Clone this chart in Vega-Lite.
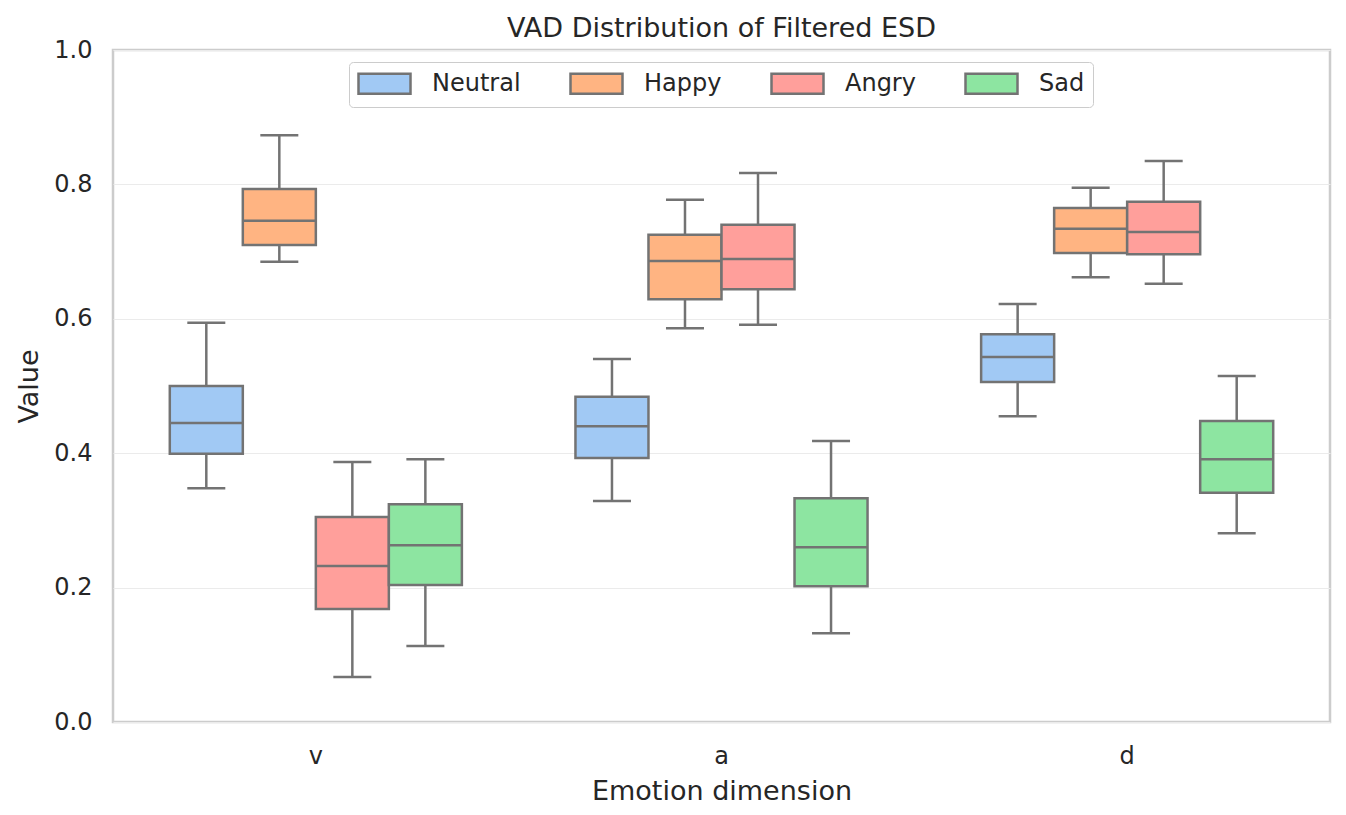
{
  "$schema": "https://vega.github.io/schema/vega-lite/v6.json",
  "width": 1217,
  "height": 672,
  "autosize": {"type": "none"},
  "padding": {"left": 113, "top": 50, "right": 16, "bottom": 93},
  "background": "white",
  "title": {
    "text": "VAD Distribution of Filtered ESD",
    "font": "DejaVu Sans",
    "fontSize": 27,
    "fontWeight": "normal",
    "color": "#262626",
    "anchor": "middle",
    "offset": -5
  },
  "config": {
    "view": {"stroke": "#cccccc", "strokeWidth": 2.5},
    "font": "DejaVu Sans"
  },
  "data": {
    "values": [
      {"dim": "v", "emotion": "Neutral", "lo": 0.348, "q1": 0.399, "med": 0.445, "q3": 0.500, "hi": 0.594},
      {"dim": "v", "emotion": "Happy", "lo": 0.685, "q1": 0.710, "med": 0.746, "q3": 0.793, "hi": 0.873},
      {"dim": "v", "emotion": "Angry", "lo": 0.067, "q1": 0.168, "med": 0.232, "q3": 0.305, "hi": 0.387},
      {"dim": "v", "emotion": "Sad", "lo": 0.113, "q1": 0.204, "med": 0.263, "q3": 0.324, "hi": 0.391},
      {"dim": "a", "emotion": "Neutral", "lo": 0.329, "q1": 0.393, "med": 0.440, "q3": 0.484, "hi": 0.540},
      {"dim": "a", "emotion": "Happy", "lo": 0.586, "q1": 0.629, "med": 0.686, "q3": 0.725, "hi": 0.777},
      {"dim": "a", "emotion": "Angry", "lo": 0.591, "q1": 0.644, "med": 0.689, "q3": 0.740, "hi": 0.817},
      {"dim": "a", "emotion": "Sad", "lo": 0.132, "q1": 0.202, "med": 0.260, "q3": 0.333, "hi": 0.418},
      {"dim": "d", "emotion": "Neutral", "lo": 0.455, "q1": 0.506, "med": 0.543, "q3": 0.577, "hi": 0.622},
      {"dim": "d", "emotion": "Happy", "lo": 0.662, "q1": 0.698, "med": 0.734, "q3": 0.765, "hi": 0.795},
      {"dim": "d", "emotion": "Angry", "lo": 0.652, "q1": 0.696, "med": 0.729, "q3": 0.774, "hi": 0.835},
      {"dim": "d", "emotion": "Sad", "lo": 0.281, "q1": 0.341, "med": 0.391, "q3": 0.448, "hi": 0.515}
    ]
  },
  "encoding": {
    "x": {
      "field": "dim",
      "type": "nominal",
      "sort": ["v", "a", "d"],
      "scale": {"paddingInner": 0.28, "paddingOuter": 0.14},
      "axis": {
        "title": "Emotion dimension",
        "labelAngle": 0,
        "labelFontSize": 24,
        "labelColor": "#262626",
        "labelPadding": 22,
        "titleFontSize": 27,
        "titleFontWeight": "normal",
        "titleColor": "#262626",
        "titlePadding": 10,
        "ticks": false,
        "domain": false,
        "grid": false
      }
    },
    "xOffset": {
      "field": "emotion",
      "type": "nominal",
      "sort": ["Neutral", "Happy", "Angry", "Sad"],
      "scale": {"paddingInner": 0, "paddingOuter": 0}
    }
  },
  "layer": [
    {
      "mark": {"type": "rule", "color": "#737373", "strokeWidth": 2.5},
      "encoding": {
        "y": {
          "field": "lo",
          "type": "quantitative",
          "scale": {"domain": [0, 1], "nice": false},
          "axis": {
            "title": "Value",
            "values": [0, 0.2, 0.4, 0.6, 0.8, 1.0],
            "format": ".1f",
            "labelFontSize": 24,
            "labelColor": "#262626",
            "labelPadding": 21,
            "titleFontSize": 27,
            "titleFontWeight": "normal",
            "titleColor": "#262626",
            "titlePadding": 10,
            "ticks": false,
            "domain": false,
            "grid": true,
            "gridColor": "#ebebeb",
            "gridWidth": 1.2
          }
        },
        "y2": {"field": "hi"}
      }
    },
    {
      "mark": {"type": "tick", "color": "#737373", "thickness": 2.5, "size": 38, "opacity": 1},
      "encoding": {"y": {"field": "lo", "type": "quantitative"}}
    },
    {
      "mark": {"type": "tick", "color": "#737373", "thickness": 2.5, "size": 38, "opacity": 1},
      "encoding": {"y": {"field": "hi", "type": "quantitative"}}
    },
    {
      "mark": {"type": "bar", "stroke": "#737373", "strokeWidth": 2.5, "opacity": 1},
      "encoding": {
        "y": {"field": "q1", "type": "quantitative"},
        "y2": {"field": "q3"},
        "fill": {
          "field": "emotion",
          "type": "nominal",
          "sort": ["Neutral", "Happy", "Angry", "Sad"],
          "scale": {
            "domain": ["Neutral", "Happy", "Angry", "Sad"],
            "range": ["#a1c9f4", "#ffb482", "#ff9f9b", "#8de5a1"]
          },
          "legend": {
            "title": null,
            "orient": "none",
            "legendX": 236,
            "legendY": 12,
            "direction": "horizontal",
            "columns": 4,
            "columnPadding": 44,
            "labelFontSize": 24,
            "labelFont": "DejaVu Sans",
            "labelColor": "#262626",
            "symbolType": "M-2.1667,-0.8333H2.1667V0.8333H-2.1667Z",
            "symbolSize": 576,
            "symbolOffset": 14,
            "symbolStrokeColor": "#737373",
            "symbolStrokeWidth": 2.5,
            "symbolOpacity": 1,
            "labelOffset": 34,
            "padding": 8,
            "strokeColor": "#cccccc",
            "fillColor": "white",
            "cornerRadius": 4
          }
        }
      }
    },
    {
      "mark": {"type": "tick", "color": "#737373", "thickness": 2.5, "size": 72, "opacity": 1},
      "encoding": {"y": {"field": "med", "type": "quantitative"}}
    }
  ]
}
